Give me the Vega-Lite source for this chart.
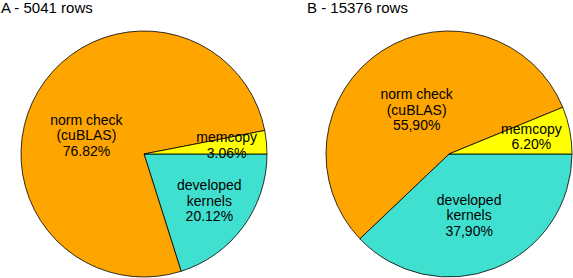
{
  "$schema": "https://vega.github.io/schema/vega-lite/v6.json",
  "padding": {"top": 1, "left": 0, "right": 0, "bottom": 0},
  "autosize": {"type": "pad"},
  "spacing": 17,
  "background": "white",
  "config": {
    "view": {"stroke": null},
    "font": "Liberation Sans",
    "title": {"font": "Liberation Sans", "fontSize": 15, "fontWeight": "normal", "anchor": "start", "frame": "group", "color": "black", "offset": 4},
    "text": {"lineBreak": "\n", "fontSize": 14, "lineHeight": 15.5, "baseline": "middle", "align": "center", "color": "black", "font": "Liberation Sans"}
  },
  "datasets": {
    "A": [
      {"cat": "developed kernels", "pct": 20.12, "k": 1, "label": "developed\nkernels\n20.12%"},
      {"cat": "norm check", "pct": 76.82, "k": 2, "label": "norm check\n(cuBLAS)\n76.82%"},
      {"cat": "memcopy", "pct": 3.06, "k": 3, "label": "memcopy\n3.06%"}
    ],
    "B": [
      {"cat": "developed kernels", "pct": 37.9, "k": 1, "label": "developed\nkernels\n37,90%"},
      {"cat": "norm check", "pct": 55.9, "k": 2, "label": "norm check\n(cuBLAS)\n55,90%"},
      {"cat": "memcopy", "pct": 6.2, "k": 3, "label": "memcopy\n6.20%"}
    ]
  },
  "hconcat": [
    {
      "title": {"text": "A - 5041 rows", "dx": 1},
      "width": 288,
      "height": 268,
      "data": {"name": "A"},
      "encoding": {
        "theta": {"field": "pct", "type": "quantitative", "stack": true, "scale": {"range": [1.5707963, 7.8539816]}},
        "order": {"field": "k", "type": "quantitative"}
      },
      "layer": [
        {
          "mark": {"type": "arc", "outerRadius": 123, "stroke": "black", "strokeWidth": 0.8},
          "encoding": {
            "color": {"field": "cat", "type": "nominal", "legend": null,
              "scale": {"domain": ["developed kernels", "norm check", "memcopy"], "range": ["#40E0D0", "#FFA500", "#FFFF00"]}}
          }
        },
        {
          "mark": {"type": "text", "radius": 60, "dx": -6, "dy": -2.5, "lineBreak": "\n"},
          "encoding": {"text": {"condition": {"test": "datum.cat === 'norm check'", "field": "label"}, "value": ""}}
        },
        {
          "mark": {"type": "text", "radius": 83, "dy": -7.75, "lineBreak": "\n"},
          "encoding": {"text": {"condition": {"test": "datum.cat === 'memcopy'", "field": "label"}, "value": ""}}
        },
        {
          "mark": {"type": "text", "radius": 81, "dy": -15.5, "lineBreak": "\n"},
          "encoding": {"text": {"condition": {"test": "datum.cat === 'developed kernels'", "field": "label"}, "value": ""}}
        }
      ]
    },
    {
      "title": {"text": "B - 15376 rows", "dx": 2},
      "width": 288,
      "height": 268,
      "data": {"name": "B"},
      "encoding": {
        "theta": {"field": "pct", "type": "quantitative", "stack": true, "scale": {"range": [1.5707963, 7.8539816]}},
        "order": {"field": "k", "type": "quantitative"}
      },
      "layer": [
        {
          "mark": {"type": "arc", "outerRadius": 123, "stroke": "black", "strokeWidth": 0.8},
          "encoding": {
            "color": {"field": "cat", "type": "nominal", "legend": null,
              "scale": {"domain": ["developed kernels", "norm check", "memcopy"], "range": ["#40E0D0", "#FFA500", "#FFFF00"]}}
          }
        },
        {
          "mark": {"type": "text", "radius": 54, "dx": -3, "dy": -13.5, "lineBreak": "\n"},
          "encoding": {"text": {"condition": {"test": "datum.cat === 'norm check'", "field": "label"}, "value": ""}}
        },
        {
          "mark": {"type": "text", "radius": 84, "dy": -7.75, "lineBreak": "\n"},
          "encoding": {"text": {"condition": {"test": "datum.cat === 'memcopy'", "field": "label"}, "value": ""}}
        },
        {
          "mark": {"type": "text", "radius": 65, "dx": -4, "dy": -13.5, "lineBreak": "\n"},
          "encoding": {"text": {"condition": {"test": "datum.cat === 'developed kernels'", "field": "label"}, "value": ""}}
        }
      ]
    }
  ]
}
